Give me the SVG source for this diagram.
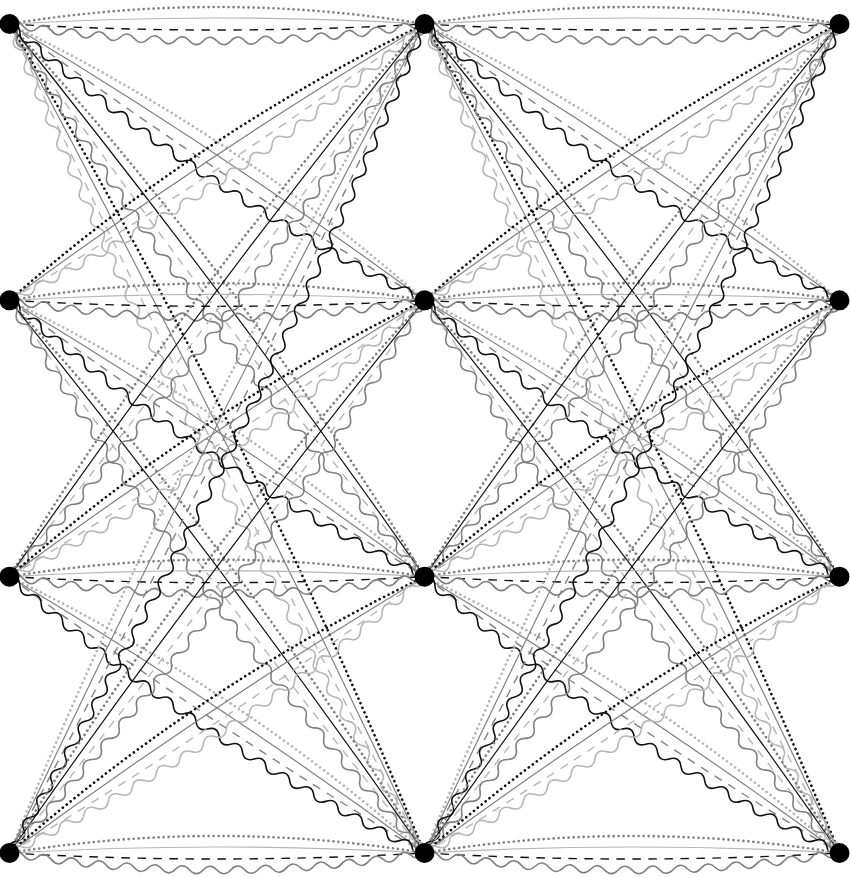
<svg xmlns="http://www.w3.org/2000/svg" xmlns:xlink="http://www.w3.org/1999/xlink" width="850" height="878" viewBox="0 0 850 878">
<style>
.dot{stroke-width:2.7;stroke-dasharray:0 5;stroke-linecap:round}
.sol{stroke-width:1.2}
.dash{stroke-width:1.4;stroke-dasharray:8.5 7.5}
.wav{stroke-width:1.6}
.K{stroke:#111}
.G{stroke:#808080}
.L{stroke:#b6b6b6}
.node{fill:#000}
</style>
<defs>
<path id="o0" d="M0,0Q207.5,-34 415,0"/>
<path id="s0" d="M0,0Q207.5,-12 415,0"/>
<path id="h0" d="M0,0Q207.5,12 415,0"/>
<path id="w0" d="M0,0q6.917,-6.4 13.833,2.19t13.833,2.04 13.833,1.89 13.833,1.74 13.833,1.59 13.833,1.44 13.833,1.28 13.833,1.13 13.833,.98 13.833,.83 13.833,.68 13.833,.53 13.833,.38 13.833,.23 13.833,.08 13.833,-.08 13.833,-.23 13.833,-.38 13.833,-.53 13.833,-.68 13.833,-.83 13.833,-.98 13.833,-1.13 13.833,-1.28 13.833,-1.44 13.833,-1.59 13.833,-1.74 13.833,-1.89 13.833,-2.04 13.833,-2.19"/>
<path id="o1" d="M0,0Q249.29,-34 498.58,0"/>
<path id="s1" d="M0,0Q249.29,-12 498.58,0"/>
<path id="h1" d="M0,0Q249.29,12 498.58,0"/>
<path id="w1" d="M0,0q6.925,-7.08 13.849,1.84t13.849,1.73 13.849,1.63 13.849,1.52 13.849,1.42 13.849,1.31 13.849,1.21 13.849,1.1 13.849,1 13.849,.89 13.849,.79 13.849,.68 13.849,.58 13.849,.47 13.849,.37 13.849,.26 13.849,.16 13.849,.05 13.849,-.05 13.849,-.16 13.849,-.26 13.849,-.37 13.849,-.47 13.849,-.58 13.849,-.68 13.849,-.79 13.849,-.89 13.849,-1 13.849,-1.1 13.849,-1.21 13.849,-1.31 13.849,-1.42 13.849,-1.52 13.849,-1.63 13.849,-1.73 13.849,-1.84"/>
<path id="o2" d="M0,0Q345.57,-34 691.13,0"/>
<path id="s2" d="M0,0Q345.57,-12 691.13,0"/>
<path id="h2" d="M0,0Q345.57,12 691.13,0"/>
<path id="w2" d="M0,0q6.911,-7.33 13.823,1.33t13.823,1.28 13.823,1.22 13.823,1.17 13.823,1.12 13.823,1.06 13.823,1.01 13.823,.95 13.823,.9 13.823,.84 13.823,.79 13.823,.73 13.823,.68 13.823,.63 13.823,.57 13.823,.52 13.823,.46 13.823,.41 13.823,.35 13.823,.3 13.823,.24 13.823,.19 13.823,.14 13.823,.08 13.823,.03 13.823,-.03 13.823,-.08 13.823,-.14 13.823,-.19 13.823,-.24 13.823,-.3 13.823,-.35 13.823,-.41 13.823,-.46 13.823,-.52 13.823,-.57 13.823,-.63 13.823,-.68 13.823,-.73 13.823,-.79 13.823,-.84 13.823,-.9 13.823,-.95 13.823,-1.01 13.823,-1.06 13.823,-1.12 13.823,-1.17 13.823,-1.22 13.823,-1.28 13.823,-1.33"/>
<path id="o3" d="M0,0Q463.54,-34 927.07,0"/>
<path id="s3" d="M0,0Q463.54,-12 927.07,0"/>
<path id="h3" d="M0,0Q463.54,12 927.07,0"/>
<path id="w3" d="M0,0q6.918,-7.5 13.837,1t13.837,.97 13.837,.94 13.837,.91 13.837,.88 13.837,.85 13.837,.82 13.837,.79 13.837,.76 13.837,.73 13.837,.7 13.837,.67 13.837,.64 13.837,.61 13.837,.58 13.837,.55 13.837,.52 13.837,.48 13.837,.45 13.837,.42 13.837,.39 13.837,.36 13.837,.33 13.837,.3 13.837,.27 13.837,.24 13.837,.21 13.837,.18 13.837,.15 13.837,.12 13.837,.09 13.837,.06 13.837,.03 13.837,0 13.837,-.03 13.837,-.06 13.837,-.09 13.837,-.12 13.837,-.15 13.837,-.18 13.837,-.21 13.837,-.24 13.837,-.27 13.837,-.3 13.837,-.33 13.837,-.36 13.837,-.39 13.837,-.42 13.837,-.45 13.837,-.48 13.837,-.52 13.837,-.55 13.837,-.58 13.837,-.61 13.837,-.64 13.837,-.67 13.837,-.7 13.837,-.73 13.837,-.76 13.837,-.79 13.837,-.82 13.837,-.85 13.837,-.88 13.837,-.91 13.837,-.94 13.837,-.97 13.837,-1"/>
<g id="b0"><use href="#o0" class="dot G"/><use href="#s0" class="sol L"/><use href="#h0" class="dash K"/><use href="#w0" class="wav G"/></g>
<g id="bp1"><use href="#o1" class="dot L"/><use href="#s1" class="sol G"/><use href="#h1" class="dash G"/><use href="#w1" class="wav K"/></g>
<g id="bm1"><use href="#o1" class="dot K"/><use href="#s1" class="sol G"/><use href="#h1" class="dash L"/><use href="#w1" class="wav L"/></g>
<g id="bp2"><use href="#o2" class="dot G"/><use href="#s2" class="sol K"/><use href="#h2" class="dash L"/><use href="#w2" class="wav G"/></g>
<g id="bm2"><use href="#o2" class="dot G"/><use href="#s2" class="sol K"/><use href="#h2" class="dash L"/><use href="#w2" class="wav G"/></g>
<g id="bp3"><use href="#o3" class="dot K"/><use href="#s3" class="sol G"/><use href="#h3" class="dash L"/><use href="#w3" class="wav L"/></g>
<g id="bm3"><use href="#o3" class="dot L"/><use href="#s3" class="sol G"/><use href="#h3" class="dash G"/><use href="#w3" class="wav K"/></g>
</defs>
<rect width="850" height="878" fill="#fff"/>
<g id="connectors" fill="none">
<use href="#bp3" transform="translate(9.5,24) rotate(63.41)"/>
<use href="#bp2" transform="translate(9.5,24) rotate(53.1)"/>
<use href="#bp1" transform="translate(9.5,24) rotate(33.66)"/>
<use href="#b0" transform="translate(9.5,24)"/>
<use href="#bm1" transform="translate(9.5,300.33) rotate(-33.66)"/>
<use href="#b0" transform="translate(9.5,300.33)"/>
<use href="#bp1" transform="translate(9.5,300.33) rotate(33.66)"/>
<use href="#bp2" transform="translate(9.5,300.33) rotate(53.1)"/>
<use href="#bm2" transform="translate(9.5,576.67) rotate(-53.1)"/>
<use href="#bm1" transform="translate(9.5,576.67) rotate(-33.66)"/>
<use href="#b0" transform="translate(9.5,576.67)"/>
<use href="#bp1" transform="translate(9.5,576.67) rotate(33.66)"/>
<use href="#bm3" transform="translate(9.5,853) rotate(-63.41)"/>
<use href="#bm2" transform="translate(9.5,853) rotate(-53.1)"/>
<use href="#bm1" transform="translate(9.5,853) rotate(-33.66)"/>
<use href="#b0" transform="translate(9.5,853)"/>
<use href="#bp3" transform="translate(424.5,24) rotate(63.41)"/>
<use href="#bp2" transform="translate(424.5,24) rotate(53.1)"/>
<use href="#bp1" transform="translate(424.5,24) rotate(33.66)"/>
<use href="#b0" transform="translate(424.5,24)"/>
<use href="#bm1" transform="translate(424.5,300.33) rotate(-33.66)"/>
<use href="#b0" transform="translate(424.5,300.33)"/>
<use href="#bp1" transform="translate(424.5,300.33) rotate(33.66)"/>
<use href="#bp2" transform="translate(424.5,300.33) rotate(53.1)"/>
<use href="#bm2" transform="translate(424.5,576.67) rotate(-53.1)"/>
<use href="#bm1" transform="translate(424.5,576.67) rotate(-33.66)"/>
<use href="#b0" transform="translate(424.5,576.67)"/>
<use href="#bp1" transform="translate(424.5,576.67) rotate(33.66)"/>
<use href="#bm3" transform="translate(424.5,853) rotate(-63.41)"/>
<use href="#bm2" transform="translate(424.5,853) rotate(-53.1)"/>
<use href="#bm1" transform="translate(424.5,853) rotate(-33.66)"/>
<use href="#b0" transform="translate(424.5,853)"/>
</g>
<g id="n-0-0"><circle class="node" cx="9.5" cy="24" r="10"/></g>
<g id="n-1-0"><circle class="node" cx="424.5" cy="24" r="10"/></g>
<g id="n-2-0"><circle class="node" cx="839.5" cy="24" r="10"/></g>
<g id="n-0-1"><circle class="node" cx="9.5" cy="300.33" r="10"/></g>
<g id="n-1-1"><circle class="node" cx="424.5" cy="300.33" r="10"/></g>
<g id="n-2-1"><circle class="node" cx="839.5" cy="300.33" r="10"/></g>
<g id="n-0-2"><circle class="node" cx="9.5" cy="576.67" r="10"/></g>
<g id="n-1-2"><circle class="node" cx="424.5" cy="576.67" r="10"/></g>
<g id="n-2-2"><circle class="node" cx="839.5" cy="576.67" r="10"/></g>
<g id="n-0-3"><circle class="node" cx="9.5" cy="853" r="10"/></g>
<g id="n-1-3"><circle class="node" cx="424.5" cy="853" r="10"/></g>
<g id="n-2-3"><circle class="node" cx="839.5" cy="853" r="10"/></g>
</svg>
